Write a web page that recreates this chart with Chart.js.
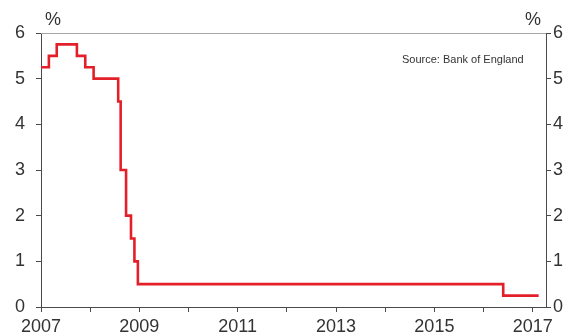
<!DOCTYPE html>
<html>
<head>
<meta charset="utf-8">
<script src="https://cdn.jsdelivr.net/npm/chart.js@4/dist/chart.umd.min.js"></script>
<style>
  html, body { margin: 0; padding: 0; background: #fff; }
  #wrap { width: 572px; height: 336px; }
</style>
</head>
<body>
<div id="wrap"><canvas id="rateCanvas"></canvas></div>
<script>
// Bank Rate, % (dates as decimal years, value after each change)
const changeDates = [2007.0, 2007.16, 2007.32, 2007.73, 2007.9, 2008.07, 2008.57, 2008.62, 2008.73, 2008.83, 2008.9, 2008.97, 2016.4, 2017.12];
const bankRate = [5.25, 5.5, 5.75, 5.5, 5.25, 5.0, 4.5, 3.0, 2.0, 1.5, 1.0, 0.5, 0.25, 0.25];
const yTicks = [0, 1, 2, 3, 4, 5, 6];
const yearLabels = [2007, 2009, 2011, 2013, 2015, 2017];

const axisColor = '#4a4a4a';
const textColor = '#333333';
const font = { family: 'Liberation Sans, Arial, sans-serif', size: 18 };

const points = changeDates.map((d, i) => ({ x: d, y: bankRate[i] }));

// extra text and the grey top frame line
const extras = {
    id: 'extras',
    afterDraw(chart) {
        const ctx = chart.ctx;
        const a = chart.chartArea;
        ctx.save();
        ctx.strokeStyle = '#a6a6a6';
        ctx.lineWidth = 1;
        ctx.beginPath();
        ctx.moveTo(a.left, a.top + 0.5);
        ctx.lineTo(a.right, a.top + 0.5);
        ctx.stroke();

        ctx.fillStyle = textColor;
        ctx.font = '18px Liberation Sans, Arial, sans-serif';
        ctx.textBaseline = 'alphabetic';
        ctx.textAlign = 'left';
        ctx.fillText('%', 45, 25);
        ctx.fillText('%', 525, 25);

        ctx.font = '11px Liberation Sans, Arial, sans-serif';
        ctx.textBaseline = 'middle';
        ctx.fillText('Source: Bank of England', 402, 60);
        ctx.restore();
    }
};

const rateChart = new Chart(document.getElementById('rateCanvas'), {
    type: 'line',
    data: {
        datasets: [
            {
                label: 'Bank Rate',
                data: points,
                stepped: true,
                borderColor: '#e3202a',
                borderWidth: 2.6,
                pointRadius: 0,
                fill: false,
                yAxisID: 'y'
            }
        ]
    },
    options: {
        responsive: true,
        maintainAspectRatio: false,
        animation: false,
        layout: { padding: { top: 33, left: 0, right: 0, bottom: 0 } },
        plugins: {
            legend: { display: false },
            tooltip: { enabled: false }
        },
        scales: {
            x: {
                type: 'linear',
                min: 2007,
                max: 2017.27,
                afterFit(scale) { scale.height = 29; },
                border: { display: true, color: axisColor, width: 1 },
                grid: { drawOnChartArea: false, drawTicks: true, tickLength: 5, tickColor: axisColor },
                ticks: {
                    stepSize: 1,
                    includeBounds: false,
                    autoSkip: false,
                    maxRotation: 0,
                    padding: 4,
                    color: textColor,
                    font: font,
                    callback: v => yearLabels.includes(v) ? String(v) : ''
                }
            },
            y: {
                position: 'left',
                min: yTicks[0],
                max: yTicks[yTicks.length - 1],
                afterFit(scale) { scale.width = 41; },
                border: { display: true, color: axisColor, width: 1 },
                grid: { drawOnChartArea: false, drawTicks: true, tickLength: 5, tickColor: axisColor },
                ticks: { stepSize: 1, padding: 11, color: textColor, font: font }
            },
            y2: {
                position: 'right',
                min: yTicks[0],
                max: yTicks[yTicks.length - 1],
                afterFit(scale) { scale.width = 26; },
                border: { display: true, color: axisColor, width: 1 },
                grid: { drawOnChartArea: false, drawTicks: true, tickLength: 5, tickColor: axisColor },
                ticks: { stepSize: 1, padding: 2, color: textColor, font: font }
            }
        }
    },
    plugins: [extras]
});
</script>
</body>
</html>
